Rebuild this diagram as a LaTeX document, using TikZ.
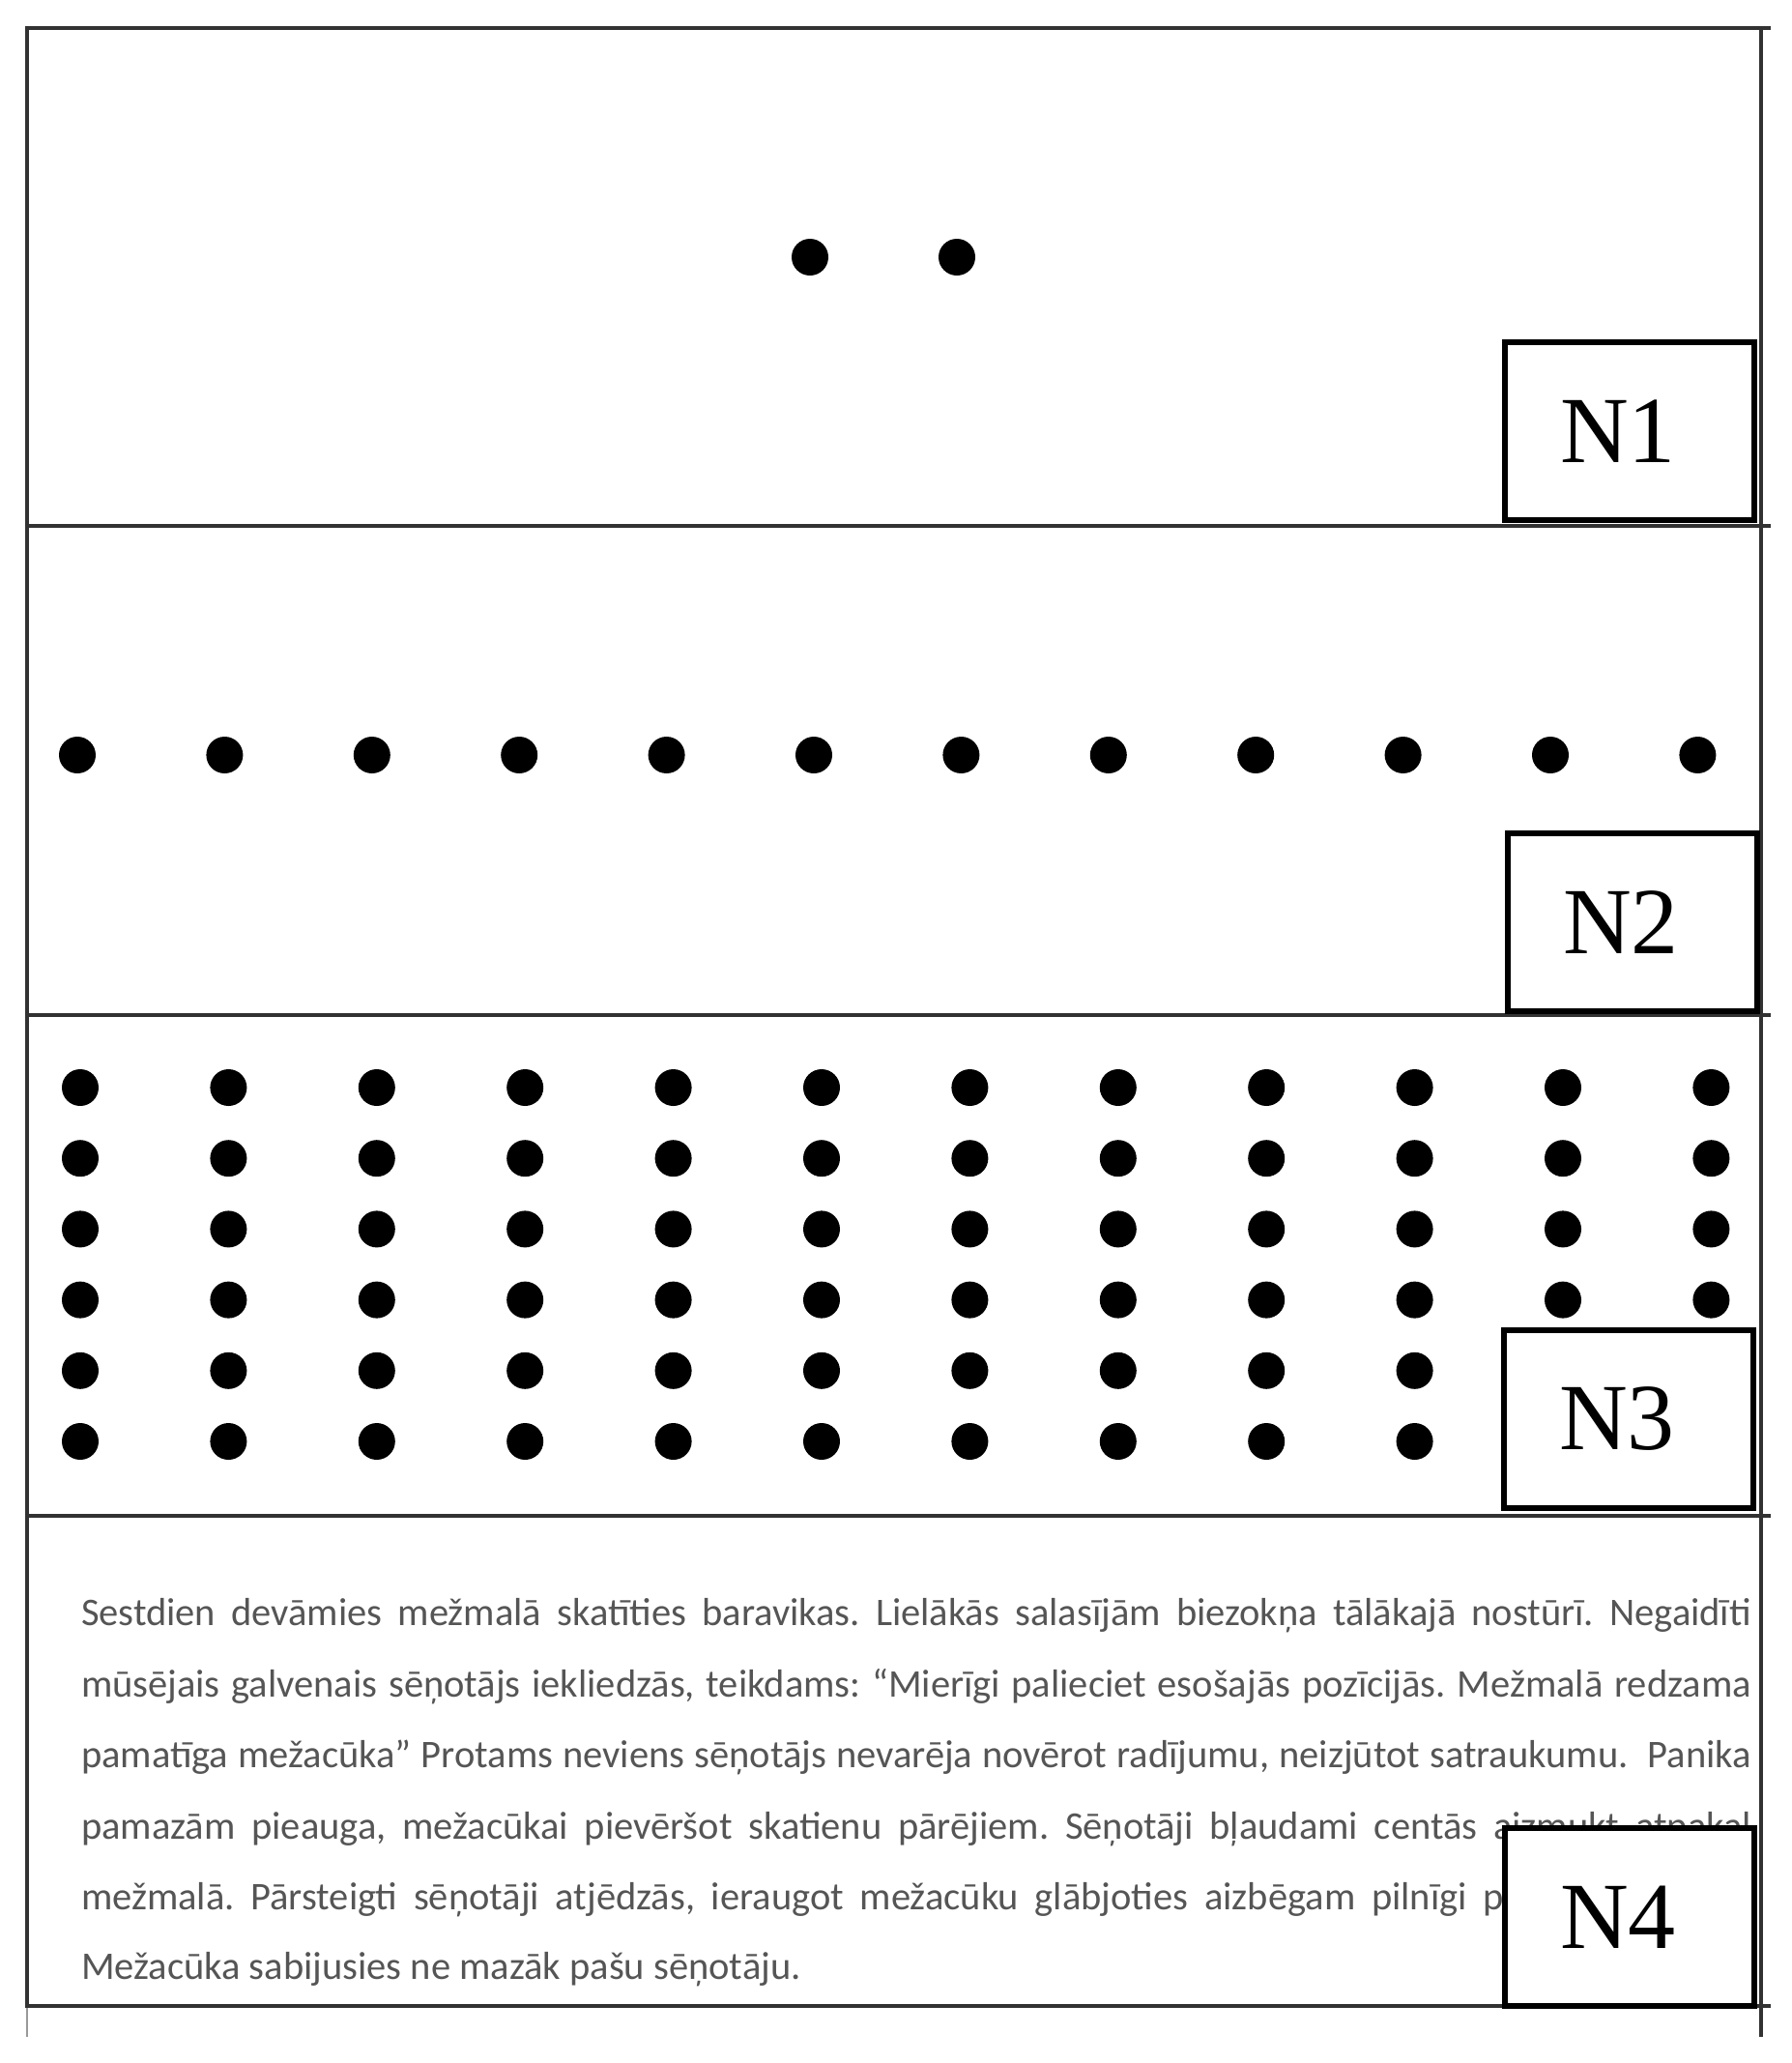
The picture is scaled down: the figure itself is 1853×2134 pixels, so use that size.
\documentclass[tikz,border=0pt]{standalone}
\usepackage{fontspec}
\setmainfont{Liberation Serif}
\newfontfamily\bodyfont{Carlito}
\definecolor{txtgray}{RGB}{85,85,85}
\definecolor{framegray}{RGB}{50,50,50}
\newcommand{\labpad}{\hbox to 24pt{\hfil}}
\begin{document}
\frenchspacing
\begin{tikzpicture}[x=1pt,y=-1pt,
  frameline/.style={draw=framegray,line width=3.5pt},
  labelbox/.style={draw=black,line width=6pt,fill=white,minimum width=258pt,minimum height=184pt,inner sep=0pt,outer sep=0pt,font=\fontsize{98}{98}\selectfont},
  textline/.style={anchor=base west,inner sep=0pt,outer sep=0pt,text=txtgray,font=\bodyfont\fontsize{40.5}{48}\selectfont}]
\useasboundingbox (0,0) rectangle (1853,2134);
\fill[white] (0,0) rectangle (1853,2134);
% frame
\draw[frameline] (26,29) -- (1832,29);
\draw[frameline] (28,29) -- (28,2077);
\draw[draw=black!40,line width=1.5pt] (28,2077) -- (28,2107);
\draw[frameline] (1822,29) -- (1822,2107);
\foreach \yy in {544,1050,1568,2075} \draw[frameline] (28,\yy) -- (1832,\yy);
% N1 dots
\fill (838,266) circle (19);
\fill (990,266) circle (19);
% N2 dots
\foreach \i in {0,...,11} \fill ({80+152.4*\i},781) circle (19);
% N3 dots
\foreach \i in {0,...,9} \foreach \j in {0,...,5} \fill ({83+153.4*\i},{1125+73.2*\j}) circle (19);
\foreach \i in {10,11} \foreach \j in {0,...,3} \fill ({83+153.4*\i},{1125+73.2*\j}) circle (19);
% text
\node[textline] (t1) at (84,1681) {\makebox[1728pt][s]{Sestdien devāmies mežmalā skatīties baravikas. Lielākās salasījām biezokņa tālākajā nostūrī. Negaidīti}};
\node[textline] (t2) at (84,1755) {\makebox[1728pt][s]{mūsējais galvenais sēņotājs iekliedzās, teikdams: “Mierīgi palieciet esošajās pozīcijās. Mežmalā redzama}};
\node[textline] (t3) at (84,1828) {\makebox[1728pt][s]{pamatīga mežacūka” Protams neviens sēņotājs nevarēja novērot radījumu, neizjūtot satraukumu.\ \ Panika}};
\node[textline] (t4) at (84,1902) {\makebox[1728pt][s]{pamazām pieauga, mežacūkai pievēršot skatienu pārējiem. Sēņotāji bļaudami centās aizmukt atpakaļ}};
\node[textline] (t5) at (84,1975) {\makebox[1472pt][s]{mežmalā. Pārsteigti sēņotāji atjēdzās, ieraugot mežacūku glābjoties aizbēgam pilnīgi p}};
\node[textline] (t6) at (84,2047) {Mežacūka sabijusies ne mazāk pašu sēņotāju.};
% label boxes
\node[labelbox] (n1) at (1686,446) {N1\labpad};
\node[labelbox] (n2) at (1689,954) {N2\labpad};
\node[labelbox] (n3) at (1685,1468) {N3\labpad};
\node[labelbox] (n4) at (1686,1983) {N4\labpad};
\end{tikzpicture}
\end{document}
